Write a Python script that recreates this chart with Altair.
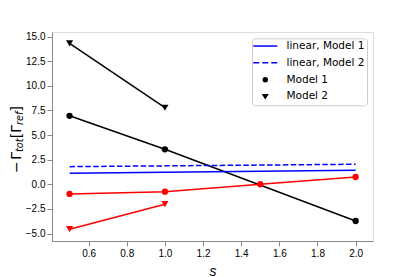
import altair as alt
import pandas as pd

# ---------------- data ----------------
s_black_m1 = [0.5, 1.0, 2.0]
v_black_m1 = [6.95, 3.55, -3.73]
s_black_m2 = [0.5, 1.0]
v_black_m2 = [14.3, 7.77]
s_red_m1 = [0.5, 1.0, 1.5, 2.0]
v_red_m1 = [-0.98, -0.75, 0.0, 0.74]
s_red_m2 = [0.5, 1.0]
v_red_m2 = [-4.56, -2.02]
s_lin = [0.5, 2.0]
v_lin_m1 = [1.12, 1.42]
v_lin_m2 = [1.79, 2.03]

x_ticks = [0.6, 0.8, 1.0, 1.2, 1.4, 1.6, 1.8, 2.0]
y_ticks = [-5.0, -2.5, 0.0, 2.5, 5.0, 7.5, 10.0, 12.5, 15.0]
legend_entries = ["linear, Model 1", "linear, Model 2", "Model 1", "Model 2"]

BLUE, RED, BLACK = "#0000ff", "#ff0000", "#000000"
FONT = "DejaVu Sans"

# ---------------- tables ----------------
rows = []
def add(name, xs, vs, color, shape, size):
    for x, v in zip(xs, vs):
        rows.append(dict(series=name, s=x, v=v, color=color, shape=shape, msize=size))

add("black_m1", s_black_m1, v_black_m1, BLACK, "circle", 40)
add("black_m2", s_black_m2, v_black_m2, BLACK, "triangle-down", 50)
add("red_m1", s_red_m1, v_red_m1, RED, "circle", 40)
add("red_m2", s_red_m2, v_red_m2, RED, "triangle-down", 50)
df = pd.DataFrame(rows)

lin_rows = []
for x, v in zip(s_lin, v_lin_m1):
    lin_rows.append(dict(model="m1", s=x, v=v))
for x, v in zip(s_lin, v_lin_m2):
    lin_rows.append(dict(model="m2", s=x, v=v))
df_lin = pd.DataFrame(lin_rows)

df_leg = pd.DataFrame(dict(entry=legend_entries,
                           s=[s_lin[0]] * 4, v=[v_lin_m1[0]] * 4))

xscale = alt.Scale(domain=[0.408, 2.091], nice=False, zero=False)
yscale = alt.Scale(domain=[-5.76, 15.46], nice=False, zero=False)

X = alt.X("s:Q", scale=xscale,
          axis=alt.Axis(values=x_ticks, format=".1f", title="s", grid=False,
                        titleFontStyle="italic", titleFontSize=14,
                        titleFontWeight="normal", titlePadding=6,
                        labelFlush=False, labelOverlap=False))
Y = alt.Y("v:Q", scale=yscale,
          axis=alt.Axis(values=y_ticks, format=".1f", title=None, grid=False,
                        labelFlush=False, labelOverlap=False))

lines = alt.Chart(df).mark_line(strokeWidth=1.5).encode(
    x=X, y=Y, detail="series:N",
    stroke=alt.Stroke("color:N", scale=None))

points = alt.Chart(df).mark_point(filled=True, opacity=1).encode(
    x=X, y=Y,
    fill=alt.Fill("color:N", scale=None),
    shape=alt.Shape("shape:N", scale=None),
    size=alt.Size("msize:Q", scale=None))

lin1 = alt.Chart(df_lin).transform_filter(alt.datum.model == "m1").mark_line(
    color=BLUE, strokeWidth=1.5).encode(x=X, y=Y)
lin2 = alt.Chart(df_lin).transform_filter(alt.datum.model == "m2").mark_line(
    color=BLUE, strokeWidth=1.5, strokeDash=[5.5, 2.4]).encode(x=X, y=Y)

# legend (built by the library from a scale over the entries)
leg_paths = [
    "M-3,0L3,0",
    "M-3,0L-1.5,0M-0.75,0L0.75,0M1.5,0L3,0",
    "M0.5,0A0.5,0.5,0,1,1,-0.5,0A0.5,0.5,0,1,1,0.5,0Z",
    "M-0.56,-0.44L0.56,-0.44L0,0.44Z",
]
leg_colors = [BLUE, BLUE, BLACK, BLACK]
legend = alt.Legend(title=None, orient="none", legendX=200, legendY=6.3,
                    padding=2.5, rowPadding=5.8, symbolOffset=5.5,
                    labelOffset=16, labelFontSize=10.5, labelFont=FONT,
                    labelColor="black", symbolSize=64, symbolStrokeWidth=1.5,
                    symbolOpacity=1, strokeColor="#cccccc", fillColor="white",
                    cornerRadius=3)
leg_layer = alt.Chart(df_leg).mark_point(filled=True, opacity=0).encode(
    x=X, y=Y,
    fill=alt.Fill("entry:N", scale=alt.Scale(domain=legend_entries, range=leg_colors), legend=legend),
    stroke=alt.Stroke("entry:N", scale=alt.Scale(domain=legend_entries, range=leg_colors), legend=legend),
    shape=alt.Shape("entry:N", scale=alt.Scale(domain=legend_entries, range=leg_paths), legend=legend),
)

# y-axis label: -Γ_tot[Γ_ref] built from pieces
pieces = ["\u2212", "\u0393", "tot", "[", "\u0393", "ref", "]"]
is_sub = [False, False, True, False, False, True, False]
adv = [0.838, 0.557, 1.396, 0.39, 0.557, 1.378, 0.39]   # advance widths in em
gaps = [1.5, 0, 0, 0, 0, 0, 0]
MAIN, SUB = 14, 9.8
pos = []
p = 141.0
for a, sub, g in zip(adv, is_sub, gaps):
    pos.append(p)
    p -= a * (SUB if sub else MAIN) + g
df_lab = pd.DataFrame(dict(t=pieces, pos=pos, sub=is_sub))

lab_main = alt.Chart(df_lab).transform_filter(alt.datum.sub == False).mark_text(
    angle=270, align="left", baseline="alphabetic", fontSize=MAIN, font=FONT,
    color="black").encode(text="t:N", x=alt.value(-31.5), y=alt.Y("pos:Q", scale=None))
lab_sub = alt.Chart(df_lab).transform_filter(alt.datum.sub == True).mark_text(
    angle=270, align="left", baseline="alphabetic", fontSize=SUB, font=FONT,
    fontStyle="italic", color="black").encode(
    text="t:N", x=alt.value(-29), y=alt.Y("pos:Q", scale=None))

chart = alt.layer(lines, lin1, lin2, points, leg_layer, lab_main, lab_sub).properties(
    width=321, height=209,
    autosize=alt.AutoSizeParams(type="none"),
    padding={"left": 44, "top": 24, "right": 34, "bottom": 36},
).configure_view(stroke="black", strokeWidth=0.8).configure_axis(
    grid=False, domainColor="black", domainWidth=0.8, tickColor="black",
    tickWidth=0.8, tickSize=3.5, labelColor="black", labelFont=FONT,
    labelFontSize=10.5, labelPadding=2, titleFont=FONT, titleColor="black",
).configure(background="white")

chart.save("out.html", embed_options={"renderer": "svg", "actions": False})
